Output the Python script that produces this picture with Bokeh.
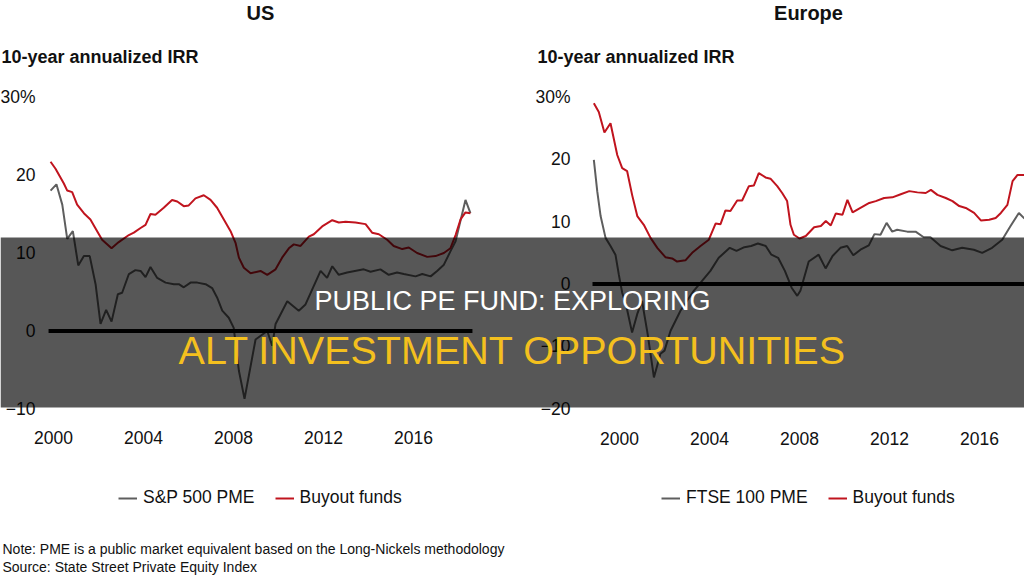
from bokeh.plotting import figure
from bokeh.models import (Range1d, LinearAxis, FixedTicker, BoxAnnotation, Label,
                          Legend, LegendItem)
from bokeh.embed import file_html
from bokeh.resources import INLINE

# ---------------- data ----------------
us_buyout_years = [1999.87, 2000.09, 2000.46, 2000.61, 2000.83, 2001.05, 2001.35, 2001.64, 2001.94,
                   2002.16, 2002.58, 2002.9, 2003.35, 2003.57, 2003.87, 2004.09, 2004.31, 2004.53,
                   2004.9, 2005.27, 2005.5, 2005.79, 2006.01, 2006.31, 2006.68, 2006.98, 2007.27,
                   2007.57, 2007.87, 2008.09, 2008.24, 2008.46, 2008.76, 2009.2, 2009.5, 2009.87,
                   2010.16, 2010.46, 2010.68, 2010.98, 2011.35, 2011.57, 2011.94, 2012.39, 2012.68,
                   2012.98, 2013.42, 2013.87, 2014.16, 2014.46, 2014.83, 2015.12, 2015.5, 2015.79,
                   2016.16, 2016.61, 2016.98, 2017.35, 2017.64, 2017.87, 2018.09, 2018.31, 2018.53]
us_buyout = [21.7, 20.8, 18.9, 18.0, 17.8, 16.2, 15.1, 14.3, 12.8,
             11.7, 10.6, 11.4, 12.3, 12.6, 13.2, 13.6, 15.0, 14.9,
             15.8, 16.8, 16.6, 16.0, 16.1, 17.0, 17.4, 16.8, 15.8,
             14.3, 12.8, 11.3, 9.4, 8.1, 7.4, 7.7, 7.2, 7.9,
             9.4, 10.6, 11.1, 10.9, 12.1, 12.4, 13.4, 14.2, 13.9,
             14.0, 13.9, 13.7, 12.6, 12.4, 11.7, 10.9, 10.5, 10.7,
             10.0, 9.5, 9.6, 10.0, 10.6, 12.3, 14.3, 15.2, 15.1]

us_pme_years = [1999.87, 2000.13, 2000.39, 2000.61, 2000.86, 2001.1, 2001.35, 2001.61, 2001.87,
                2002.09, 2002.34, 2002.58, 2002.86, 2003.05, 2003.35, 2003.64, 2003.87, 2004.09,
                2004.31, 2004.61, 2004.98, 2005.35, 2005.57, 2005.79, 2006.09, 2006.39, 2006.76,
                2007.05, 2007.27, 2007.5, 2007.79, 2008.01, 2008.24, 2008.49, 2008.98, 2009.5,
                2009.72, 2009.87, 2010.39, 2010.9, 2011.2, 2011.87, 2012.16, 2012.39, 2012.68,
                2013.05, 2013.79, 2014.09, 2014.53, 2014.9, 2015.27, 2015.57, 2016.09, 2016.39,
                2016.76, 2017.05, 2017.35, 2017.64, 2017.87, 2018.31, 2018.53]
us_pme = [18.0, 18.8, 16.2, 11.8, 12.8, 8.4, 9.6, 9.6, 6.0,
          0.9, 2.7, 1.2, 4.7, 4.9, 7.3, 7.8, 7.7, 6.9,
          8.2, 6.8, 6.2, 6.0, 6.0, 5.6, 6.2, 6.2, 6.0,
          5.5, 4.3, 2.6, 1.7, 0.4, -5.1, -8.7, -1.1, 0.0,
          -1.9, 0.9, 3.8, 2.6, 3.4, 7.7, 6.8, 8.3, 7.2,
          7.5, 7.9, 7.6, 7.9, 7.2, 7.5, 7.3, 7.0, 7.3,
          7.0, 7.7, 8.5, 10.2, 11.5, 16.8, 15.1]

eu_buyout_years = [1998.86, 1999.08, 1999.33, 1999.6, 1999.9, 2000.12, 2000.34, 2000.56, 2000.79,
                   2001.08, 2001.38, 2001.68, 2002.04, 2002.34, 2002.56, 2002.93, 2003.23, 2003.6,
                   2003.97, 2004.27, 2004.49, 2004.71, 2004.93, 2005.23, 2005.45, 2005.75, 2005.97,
                   2006.19, 2006.49, 2006.71, 2007.01, 2007.23, 2007.45, 2007.6, 2007.75, 2008.0,
                   2008.28, 2008.65, 2008.95, 2009.17, 2009.39, 2009.61, 2009.91, 2010.13, 2010.36,
                   2010.65, 2011.1, 2011.39, 2011.76, 2012.13, 2012.5, 2012.88, 2013.24, 2013.61,
                   2013.84, 2014.13, 2014.5, 2014.8, 2015.1, 2015.39, 2015.76, 2016.06, 2016.43,
                   2016.72, 2016.95, 2017.24, 2017.47, 2017.69, 2018.0]
eu_buyout = [29.0, 27.6, 24.3, 25.8, 20.7, 18.6, 18.1, 14.3, 10.9,
             9.5, 7.4, 5.8, 4.3, 4.1, 3.6, 3.8, 5.0, 6.1,
             7.1, 9.7, 9.6, 11.8, 11.7, 13.4, 13.4, 15.7, 15.8,
             17.8, 17.1, 16.9, 15.7, 14.6, 13.3, 9.5, 7.9, 7.3,
             7.7, 9.1, 9.3, 10.1, 9.4, 11.3, 11.1, 13.5, 11.5,
             12.1, 13.0, 13.3, 13.8, 13.9, 14.4, 14.9, 14.7, 14.6,
             15.1, 14.3, 13.8, 13.3, 12.5, 12.2, 11.4, 10.2, 10.3,
             10.6, 11.4, 12.7, 16.5, 17.5, 17.5]

eu_pme_years = [1998.86, 1999.01, 1999.16, 1999.38, 1999.6, 1999.82, 1999.97, 2000.12, 2000.3,
                2000.56, 2000.79, 2001.0, 2001.25, 2001.53, 2001.82, 2002.0, 2002.27, 2002.49,
                2002.71, 2003.0, 2003.3, 2003.67, 2004.04, 2004.41, 2004.9, 2005.2, 2005.55,
                2005.85, 2006.15, 2006.5, 2006.75, 2007.05, 2007.35, 2007.65, 2007.9, 2008.04,
                2008.41, 2008.85, 2009.16, 2009.47, 2009.82, 2010.12, 2010.39, 2010.71, 2011.08,
                2011.33, 2011.6, 2011.87, 2012.12, 2012.34, 2012.79, 2013.16, 2013.52, 2013.82,
                2014.27, 2014.79, 2015.23, 2015.75, 2016.12, 2016.56, 2017.01, 2017.38, 2017.75,
                2018.0]
eu_pme = [19.9, 14.9, 10.9, 7.4, 6.1, 4.7, 1.5, -1.4, -3.5,
          -7.8, -4.8, -2.7, -8.0, -15.0, -11.2, -10.7, -7.5, -5.9,
          -4.3, -2.7, -1.1, 0.5, 2.1, 4.2, 5.8, 5.3, 5.9,
          6.1, 6.5, 6.1, 4.7, 4.2, 2.1, -0.6, -1.9, -1.1,
          3.6, 4.7, 2.5, 4.5, 5.8, 6.1, 4.6, 5.5, 6.2,
          8.0, 7.9, 9.8, 8.4, 8.7, 8.4, 8.4, 7.5, 7.5,
          6.1, 5.4, 5.8, 5.5, 5.0, 5.8, 7.1, 9.3, 11.4,
          10.5]

year_ticks = [2000, 2004, 2008, 2012, 2016]
us_y_ticks = [-10, 0, 10, 20, 30]
eu_y_ticks = [-20, -10, 0, 10, 20, 30]
us_series_names = ["S&P 500 PME", "Buyout funds"]
eu_series_names = ["FTSE 100 PME", "Buyout funds"]
zero_line_us = (1999.78, 2018.62)
zero_line_eu = (1998.8, 2018.0)

# ---------------- styling ----------------
RED = "#c0141e"
GRAY = "#5e5e5e"
FONT = "Liberation Sans"
W, H = 1024, 576

p = figure(width=W, height=H, output_backend="svg", toolbar_location=None,
           x_range=Range1d(1997.6444, 2043.1556), y_range=Range1d(-31.48, 42.37),
           x_axis_type=None, y_axis_type=None, min_border=0,
           outline_line_color=None, background_fill_color="white", border_fill_color="white")
p.extra_x_ranges = {"eux": Range1d(1972.4889, 2018.0), "px": Range1d(0, 1024)}
p.extra_y_ranges = {"euy": Range1d(-46.94, 45.49), "py": Range1d(576, 0)}

# data lines
r_us_pme = p.line(us_pme_years, us_pme, line_color=GRAY, line_width=2)
r_us_buy = p.line(us_buyout_years, us_buyout, line_color=RED, line_width=2)
r_eu_pme = p.line(eu_pme_years, eu_pme, line_color=GRAY, line_width=2,
                  x_range_name="eux", y_range_name="euy")
r_eu_buy = p.line(eu_buyout_years, eu_buyout, line_color=RED, line_width=2,
                  x_range_name="eux", y_range_name="euy")

# zero lines
p.segment(x0=[zero_line_us[0]], y0=[0], x1=[zero_line_us[1]], y1=[0],
          line_color="black", line_width=4)
p.segment(x0=[zero_line_eu[0]], y0=[0], x1=[zero_line_eu[1]], y1=[0],
          line_color="black", line_width=4, x_range_name="eux", y_range_name="euy")


def axis_style(ax, size="17.5px"):
    ax.axis_line_color = None
    ax.major_tick_line_color = None
    ax.minor_tick_line_color = None
    ax.major_tick_in = 0
    ax.major_tick_out = 0
    ax.minor_tick_in = 0
    ax.minor_tick_out = 0
    ax.major_label_text_font = FONT
    ax.major_label_text_font_size = size
    ax.major_label_text_color = "#111111"
    return ax


# y axes
ax = axis_style(LinearAxis(ticker=FixedTicker(ticks=us_y_ticks), fixed_location=1999.42,
                           major_label_overrides={30: "30%", -10: "\u221210"},
                           major_label_standoff=5))
p.add_layout(ax, "left")
ax = axis_style(LinearAxis(ticker=FixedTicker(ticks=eu_y_ticks), fixed_location=1998.044,
                           x_range_name="eux", y_range_name="euy",
                           major_label_overrides={30: "30%", -10: "\u221210", -20: "\u221220"},
                           major_label_standoff=5))
p.add_layout(ax, "left")
# x axes
ax = axis_style(LinearAxis(ticker=FixedTicker(ticks=year_ticks), fixed_location=-12.24,
                           major_label_standoff=5))
p.add_layout(ax, "below")
ax = axis_style(LinearAxis(ticker=FixedTicker(ticks=year_ticks), fixed_location=-22.87,
                           x_range_name="eux", y_range_name="euy",
                           major_label_standoff=5))
p.add_layout(ax, "below")


def lab(x, y, text, size, bold=False, align="left", color="#111111", level="annotation"):
    p.add_layout(Label(x=x, y=y, x_range_name="px", y_range_name="py", text=text,
                       text_font=FONT, text_font_size=size,
                       text_font_style="bold" if bold else "normal",
                       text_align=align, text_baseline="middle", text_color=color,
                       level=level))


# titles
lab(260, 12, "US", "20px", bold=True, align="center")
lab(808, 12, "Europe", "20px", bold=True, align="center")
lab(1, 56, "10-year annualized IRR", "18px", bold=True)
lab(537, 56, "10-year annualized IRR", "18px", bold=True)
# notes
lab(2, 548, "Note: PME is a public market equivalent based on the Long-Nickels methodology", "14px")
lab(2, 566, "Source: State Street Private Equity Index", "14px")


# legends
def make_legend(items, x_ref):
    leg = Legend(items=items, orientation="horizontal",
                 location=(x_ref, H - 498 - 10),
                 glyph_width=19, glyph_height=20, label_height=20, label_standoff=6,
                 spacing=20, padding=0, margin=0, border_line_color=None,
                 background_fill_alpha=0, label_text_font=FONT,
                 label_text_font_size="17.5px", label_text_color="#111111")
    p.add_layout(leg)


make_legend([LegendItem(label=us_series_names[0], renderers=[r_us_pme]),
             LegendItem(label=us_series_names[1], renderers=[r_us_buy])], 118)
make_legend([LegendItem(label=eu_series_names[0], renderers=[r_eu_pme]),
             LegendItem(label=eu_series_names[1], renderers=[r_eu_buy])], 661)

# overlay band
p.add_layout(BoxAnnotation(top=237, bottom=407, y_range_name="py", fill_color="black",
                           fill_alpha=0.66, line_color=None, level="overlay"))
lab(512, 300, "PUBLIC PE FUND: EXPLORING", "27px", align="center", color="white", level="overlay")
lab(512, 349, "ALT INVESTMENT OPPORTUNITIES", "39.5px", align="center", color="#f4c01e",
    level="overlay")

open("out.html", "w").write(file_html(p, INLINE))
